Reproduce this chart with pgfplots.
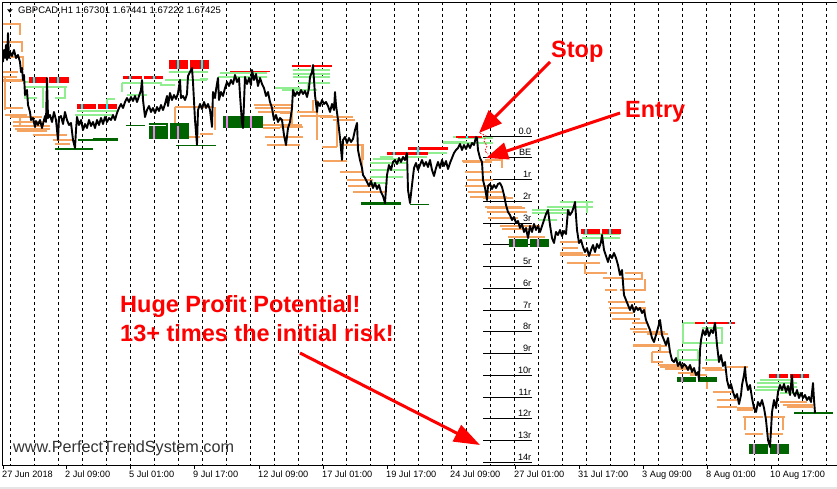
\documentclass[border=0pt]{standalone}
\usepackage{fontspec}
\setmainfont{Liberation Sans}
\usepackage{pgfplots}
\pgfplotsset{compat=1.18}
\usetikzlibrary{arrows.meta}

\definecolor{sandy}{RGB}{244,164,96}
\definecolor{lgreen}{RGB}{144,238,144}
\definecolor{dgreen}{RGB}{0,100,0}
\definecolor{cyanx}{RGB}{0,255,255}
\definecolor{viol}{RGB}{238,130,238}

% filled box: colour, x1, x2, y1, y2 (pixel units)
\newcommand\rect[5]{\addplot[fill=#1, draw=none] coordinates {(#2,#4) (#3,#4) (#3,#5) (#2,#5)} -- cycle;}

\begin{document}
\begin{tikzpicture}
\begin{axis}[
  scale only axis, width=838bp, height=463bp,
  xmin=2, xmax=840, ymin=2, ymax=465, y dir=reverse,
  clip=false,
  axis line style={black, line width=0.9bp},
  ytick=\empty,
  xtick={3,66,130,194,259,323,387,451,515,579,643,707,771},
  xticklabels={27 Jun 2018, 2 Jul 09:00, 5 Jul 01:00, 9 Jul 17:00, 12 Jul 09:00, 17 Jul 01:00, 19 Jul 17:00, 24 Jul 09:00, 27 Jul 01:00, 31 Jul 17:00, 3 Aug 09:00, 8 Aug 01:00, 10 Aug 17:00},
  xtick pos=left, tick align=outside, major tick length=4bp,
  tick style={black, line width=0.9bp},
  xticklabel style={anchor=north west, inner sep=0pt, xshift=-1bp, yshift=-2bp, font=\fontsize{9.2bp}{10bp}\selectfont},
  minor xtick={10.5,34.5,...,826.5},
  minor tick length=0pt,
  xminorgrids=true,
  minor grid style={black, line width=0.9bp, dash pattern=on 3bp off 3bp},
  unbounded coords=jump,
]
% grey strip under the chart
\addplot[fill=gray!20, draw=none] coordinates {(0,486.5) (837,486.5) (837,489) (0,489)} -- cycle;

% R-multiple levels
\addplot[black, line width=1bp] coordinates {
(483,136) (532,136) (0,nan) (483,157.75) (532,157.75) (0,nan)
(483,179.5) (532,179.5) (0,nan) (483,201.25) (532,201.25) (0,nan)
(483,223) (532,223) (0,nan) (483,244.75) (532,244.75) (0,nan)
(483,266.5) (532,266.5) (0,nan) (483,288.25) (532,288.25) (0,nan)
(483,310) (532,310) (0,nan) (483,331.75) (532,331.75) (0,nan)
(483,353.5) (532,353.5) (0,nan) (483,375.25) (532,375.25) (0,nan)
(483,397) (532,397) (0,nan) (483,418.75) (532,418.75) (0,nan)
(483,440.5) (532,440.5) (0,nan) (483,462.25) (532,462.25)};
\begin{scope}[every node/.style={anchor=base east, inner sep=0pt, font=\fontsize{9.2bp}{10bp}\selectfont}]
\node at (axis cs:531.5,134) {0.0};
\node at (axis cs:531.5,155.75) {BE};
\node at (axis cs:531.5,177.5) {1r};
\node at (axis cs:531.5,199.25) {2r};
\node at (axis cs:531.5,221) {3r};
\node at (axis cs:531.5,264.5) {5r};
\node at (axis cs:531.5,286.25) {6r};
\node at (axis cs:531.5,308) {7r};
\node at (axis cs:531.5,329.75) {8r};
\node at (axis cs:531.5,351.5) {9r};
\node at (axis cs:531.5,373.25) {10r};
\node at (axis cs:531.5,395) {11r};
\node at (axis cs:531.5,416.75) {12r};
\node at (axis cs:531.5,438.5) {13r};
\node at (axis cs:531.5,460.25) {14r};
\end{scope}

% orange trailing levels
\addplot[sandy, line width=1.1bp] coordinates {
(3,24) (20,24) (20,35) (0,nan) (3,42) (22,42) (22,52) (0,nan) (3,57) (23,57) (23,70) (0,nan)
(3,72) (18,72) (0,nan) (3,77) (17,77) (0,nan) (3,80) (23,80) (0,nan) (3,81.5) (23,81.5) (0,nan)
(5,77) (5,110) (0,nan) (5,108) (23,108) (0,nan) (5,115) (27,115) (20,115) (20,125) (0,nan)
(10,117) (42,117) (0,nan) (13,122) (43,122) (0,nan) (13,126) (50,126) (0,nan) (15,129) (50,129) (0,nan)
(17,131) (47,131) (0,nan) (33,135) (67,135) (0,nan) (53,140) (73,140) (0,nan) (55,144) (70,144) (0,nan)
(175,107) (213,107) (0,nan) (175,107) (175,137) (0,nan) (177,137) (200,137) (0,nan)
(200,134) (213,134) (0,nan) (215,107) (215,130) (0,nan)
(254,105) (292,105) (292,125) (0,nan) (255,108) (292,108) (0,nan) (258,112) (290,112) (0,nan)
(263,125) (302,125) (0,nan) (263,128) (280,128) (0,nan) (265,137) (280,137) (0,nan) (267,145) (300,145) (0,nan)
(280,113) (293,113) (0,nan) (280,120) (290,120) (0,nan) (280,127) (303,127) (0,nan) (280,137) (303,137) (0,nan)
(297,112) (317,112) (0,nan) (300,116) (333,116) (0,nan) (320,117) (353,117) (0,nan) (333,120) (355,120) (0,nan)
(317,100) (317,140) (0,nan) (313,100) (313,113) (0,nan) (337,120) (337,147) (0,nan)
(322,147) (337,147) (0,nan) (323,161) (347,161) (0,nan) (343,145) (363,145) (363,160) (0,nan)
(340,117) (353,117) (0,nan) (340,120) (353,120) (0,nan) (342,145) (362,145) (362,172) (0,nan)
(340,172) (363,172) (0,nan) (347,180) (373,180) (0,nan) (348,186) (380,186) (0,nan) (353,192) (387,192) (0,nan)
(462,161) (480,161) (0,nan) (485,160) (502,160) (502,168) (0,nan) (463,162) (492,162) (0,nan)
(465,172) (492,172) (0,nan) (467,180) (493,180) (0,nan) (465,186) (495,186) (0,nan)
(468,192) (502,192) (0,nan) (470,197) (507,197) (0,nan) (483,198) (513,198) (0,nan)
(485,207) (522,207) (0,nan) (487,212) (527,212) (0,nan) (488,218) (518,218) (0,nan)
(487,208) (525,208) (0,nan) (500,226) (540,226) (0,nan) (502,229) (530,229) (0,nan) (508,237) (545,237) (0,nan)
(560,242) (580,242) (0,nan) (562,248) (578,248) (0,nan) (560,255) (600,255) (0,nan) (560,253) (583,253) (0,nan)
(567,263) (600,263) (0,nan) (585,263) (585,273) (607,273) (0,nan) (603,278) (622,278) (0,nan)
(625,273) (642,273) (642,279) (0,nan) (623,279) (643,279) (0,nan) (605,290) (617,290) (0,nan)
(625,290) (645,290) (645,279) (0,nan) (608,302) (645,302) (0,nan) (609,308) (633,308) (0,nan)
(610,313) (633,313) (0,nan) (612,319) (640,319) (0,nan) (630,329) (647,329) (0,nan)
(633,345) (660,345) (660,352) (0,nan) (652,352) (660,352) (0,nan)
(620,290) (640,290) (0,nan) (627,308) (645,308) (645,317) (0,nan) (632,323) (647,323) (0,nan)
(633,332) (665,332) (0,nan) (647,334) (668,334) (0,nan) (633,346) (667,346) (0,nan)
(652,352) (670,352) (0,nan) (652,352) (652,362) (663,362) (0,nan) (658,365) (685,365) (0,nan)
(660,367) (692,367) (0,nan) (665,369) (693,369) (0,nan) (678,373) (698,373) (0,nan) (690,375) (707,375) (0,nan)
(702,368) (722,368) (0,nan) (705,370) (727,370) (0,nan) (727,367) (748,367) (0,nan)
(707,380) (707,389) (0,nan) (713,392) (733,392) (0,nan) (717,400) (737,400) (0,nan) (717,407) (737,407) (0,nan)
(737,408) (757,408) (0,nan) (737,410) (753,410) (0,nan) (743,417) (763,417) (0,nan) (745,417) (745,430) (0,nan)
(745,434) (763,434) (0,nan) (765,417) (785,417) (0,nan) (783,417) (783,430) (0,nan) (768,434) (783,434) (0,nan)
(780,402) (807,402) (0,nan) (783,405) (813,405) (0,nan) (787,407) (813,407)};

% light green trailing levels
\addplot[lgreen, line width=1.1bp] coordinates {
(25,82) (43,82) (0,nan) (25,87) (67,87) (0,nan) (25,87) (25,98) (37,98) (0,nan) (55,98) (65,98) (65,87) (0,nan)
(43,87) (43,108) (0,nan) (77,111) (117,111) (0,nan) (75,115) (113,115) (0,nan) (107,99) (115,99) (0,nan) (107,99) (107,106) (0,nan)
(122,83) (162,83) (0,nan) (122,83) (122,92) (0,nan) (127,95) (147,95) (0,nan) (160,85) (175,85) (0,nan) (165,80) (180,80) (0,nan)
(169,72) (208,72) (0,nan) (175,80) (207,80) (0,nan) (200,79) (208,79) (0,nan)
(220,73) (267,73) (0,nan) (218,77) (267,77) (0,nan) (220,73) (257,73) (0,nan) (275,88) (280,88) (0,nan)
(293,70) (330,70) (0,nan) (293,74) (330,74) (0,nan) (293,77) (330,77) (0,nan) (298,83) (330,83) (0,nan)
(280,88) (293,88) (0,nan) (282,90) (317,90) (0,nan) (308,82) (308,90) (0,nan) (277,88) (300,88) (0,nan)
(373,159) (407,159) (0,nan) (370,163) (407,163) (0,nan) (370,170) (407,170) (0,nan) (370,177) (403,177) (0,nan)
(372,183) (388,183) (0,nan) (407,157) (427,157) (0,nan) (417,153) (447,153) (0,nan) (380,157) (393,157) (0,nan)
(443,142) (467,142) (0,nan) (453,137) (480,137) (0,nan) (443,143) (493,143) (0,nan) (458,138) (493,138) (0,nan)
(532,210) (570,210) (0,nan) (532,213) (570,213) (0,nan) (547,207) (593,207) (0,nan) (560,202) (593,202) (0,nan)
(587,202) (587,213) (0,nan) (538,220) (557,220) (0,nan) (582,238) (620,238) (0,nan) (583,234) (620,234) (0,nan)
(683,323) (702,323) (0,nan) (683,323) (683,343) (700,343) (0,nan) (700,343) (722,343) (722,328) (702,328) (0,nan)
(678,350) (698,350) (0,nan) (678,350) (678,360) (700,360) (0,nan) (698,350) (698,360) (0,nan) (705,360) (720,360) (0,nan)
(760,380) (793,380) (0,nan) (757,383) (797,383) (0,nan) (757,387) (797,387) (0,nan) (755,390) (790,390) (0,nan)
(780,393) (800,393)};

% dark green thin lows
\addplot[dgreen, line width=1.2bp] coordinates {
(126,125.3) (145,125.3) (0,nan) (55,149) (93,149) (0,nan) (176,145.7) (210,145.7) (0,nan)
(200,145.3) (216,145.3) (0,nan) (410,204.8) (429,204.8) (0,nan) (794,413) (833,413)};
% small red dashes at the stop
\addplot[red, line width=0.8bp, dash pattern=on 1.5bp off 1.5bp] coordinates {(480,133) (486,136) (484,141) (487,146) (485,151) (488,154)};

% red swing-high bars
\rect{red}{29}{47}{77}{83}
\rect{red}{49}{69}{77}{83}
\rect{red}{77}{96}{104}{109}
\rect{red}{98}{117}{104}{109}
\rect{red}{123}{142}{76}{79}
\rect{red}{144}{163}{76}{79}
\rect{red}{169}{188}{60}{69}
\rect{red}{190}{209}{60}{69}
\rect{red}{230}{270}{71}{72.5}
\rect{red}{292}{311}{65}{67}
\rect{red}{313}{332}{65}{67}
\rect{red}{387}{407}{152}{155}
\rect{red}{408}{428}{152}{155}
\rect{red}{408}{448}{147}{150}
\rect{red}{456}{482}{135.5}{138}
\rect{red}{581}{600}{229}{234}
\rect{red}{602}{621}{229}{234}
\rect{red}{695}{735}{321.5}{323.5}
\rect{red}{769}{788}{374}{378}
\rect{red}{790}{809}{374}{378}
% dark green swing-low bars
\rect{dgreen}{149}{168}{123}{139}
\rect{dgreen}{170}{189}{123}{139}
\rect{dgreen}{223}{242}{116}{128}
\rect{dgreen}{244}{263}{116}{128}
\rect{dgreen}{78}{93}{139}{140.5}
\rect{dgreen}{93}{118}{137.5}{141}
\rect{dgreen}{361}{401}{202}{205}
\rect{dgreen}{509}{528}{239}{247}
\rect{dgreen}{530}{549}{239}{247}
\rect{dgreen}{677}{696}{377}{381.5}
\rect{dgreen}{698}{717}{377}{381.5}
\rect{dgreen}{749}{768}{444}{454}
\rect{dgreen}{770}{789}{444}{454}
\addplot[white, line width=1bp] coordinates {(149,125.5) (166,125.5)};
% cyan and violet marks
\addplot[cyanx, line width=1.2bp] coordinates {
(34,77) (34,83) (0,nan) (58,77) (58,83) (0,nan) (82,104) (82,109) (0,nan) (107,104) (107,109) (0,nan)
(130,76) (130,79) (0,nan) (154,76) (154,79) (0,nan) (178,60) (178,69) (0,nan) (202,60) (202,69) (0,nan)
(394,152) (394,155) (0,nan) (418,147) (418,155) (0,nan) (467,135.5) (467,138) (0,nan)
(586,229) (586,234) (0,nan) (610,229) (610,234) (0,nan) (706,321.5) (706,323.5) (0,nan) (730,321.5) (730,323.5) (0,nan)
(778,374) (778,378) (0,nan) (802,374) (802,378)};
\addplot[viol, line width=1.2bp] coordinates {
(154,126) (154,139) (0,nan) (178,126) (178,139) (0,nan) (227,116) (227,128) (0,nan) (251,116) (251,128) (0,nan)
(514,239) (514,247) (0,nan) (538,239) (538,247) (0,nan) (682,377) (682,381.5) (0,nan)
(754,444) (754,454) (0,nan) (778,444) (778,454)};

% GBPCAD H1 close path
\addplot[black, line width=1.9bp, line join=round] coordinates {
(3,62) (4,50) (5,58) (6,45) (7,60) (8,33) (9,58) (10,52) (12,56) (14,50) (16,58) (18,55) (20,62) (21,72) (22,68) (23,80) (24,75) (25,95) (27,90) (28,105) (30,112) (31,120) (33,118) (35,127) (36,121) (38,125) (40,120) (42,128) (43,124) (45,116) (46,122) (47,78) (48,118) (50,115) (52,122) (54,112) (56,120) (58,140) (59,118) (61,116) (63,124) (65,112) (67,120) (69,125) (71,123) (73,140) (75,148) (76,130) (77,117) (79,125) (81,120) (83,130) (85,124) (87,128) (89,120) (91,126) (93,122) (95,128) (97,120) (99,125) (101,118) (103,124) (105,117) (107,122) (109,118) (111,120) (113,115) (115,120) (117,113) (119,108) (121,104) (123,108) (125,102) (127,98) (129,102) (131,97) (133,101) (135,96) (137,102) (139,96) (141,90) (142,80) (143,100) (145,117) (147,110) (149,106) (151,112) (153,108) (155,113) (157,107) (159,111) (161,105) (163,110) (165,104) (167,96) (168,106) (170,93) (172,100) (174,95) (176,99) (178,93) (180,80) (181,98) (183,96) (185,100) (187,94) (188,76) (190,72) (192,68) (193,82) (195,120) (197,145) (198,110) (200,104) (202,109) (204,102) (206,108) (208,104) (210,110) (212,127) (213,92) (215,98) (216,90) (218,78) (219,100) (221,92) (223,96) (225,88) (227,82) (229,86) (231,80) (233,84) (235,75) (237,82) (239,78) (240,95) (242,123) (243,128) (245,77) (247,84) (249,78) (251,85) (252,70) (254,80) (256,74) (258,86) (260,78) (262,84) (264,88) (266,96) (268,92) (270,102) (272,108) (274,120) (276,115) (278,122) (280,118) (282,120) (284,135) (286,145) (288,128) (290,122) (292,108) (293,90) (295,96) (297,92) (299,95) (301,90) (303,94) (305,91) (307,97) (309,88) (310,77) (312,72) (313,65) (314,80) (315,95) (317,112) (318,102) (320,106) (322,100) (324,104) (326,102) (328,106) (330,112) (332,104) (334,110) (335,92) (336,105) (338,120) (340,138) (342,160) (343,140) (345,137) (347,143) (349,138) (351,142) (353,139) (355,130) (357,123) (358,150) (360,160) (362,168) (363,175) (365,178) (367,182) (369,186) (371,181) (373,188) (375,183) (377,189) (379,185) (381,192) (383,196) (385,203) (387,175) (389,165) (391,170) (393,162) (395,160) (397,164) (399,158) (401,162) (403,157) (405,160) (407,153) (408,190) (410,203) (412,185) (414,168) (416,163) (418,170) (420,165) (422,160) (424,166) (426,162) (428,167) (430,160) (432,170) (434,176) (436,168) (438,162) (440,168) (442,160) (444,166) (446,161) (448,169) (450,163) (452,158) (454,153) (456,150) (458,148) (460,144) (462,150) (464,145) (466,149) (468,144) (470,148) (472,143) (474,145) (476,137) (477,138) (478,150) (480,158) (482,162) (483,180) (485,188) (487,200) (488,186) (490,184) (492,189) (494,185) (496,188) (498,184) (500,183) (502,187) (504,195) (506,205) (508,212) (510,215) (512,220) (514,217) (516,223) (518,221) (520,228) (522,224) (524,232) (526,228) (528,238) (530,226) (532,232) (534,224) (536,230) (538,226) (540,232) (542,226) (544,220) (546,214) (548,210) (550,225) (552,238) (554,243) (556,232) (558,235) (560,230) (562,236) (564,231) (566,234) (568,210) (570,215) (572,212) (574,206) (575,202) (577,230) (579,243) (581,240) (583,247) (585,252) (587,248) (589,256) (591,250) (593,245) (595,252) (597,244) (599,248) (601,242) (602,235) (604,250) (606,256) (608,262) (610,255) (612,258) (614,253) (616,258) (618,265) (620,275) (622,270) (623,283) (624,295) (626,300) (628,305) (630,310) (632,305) (634,312) (636,307) (638,310) (640,308) (642,313) (644,310) (646,320) (648,325) (650,330) (652,338) (654,342) (656,335) (658,328) (660,320) (662,335) (664,340) (666,345) (668,338) (670,352) (672,360) (674,362) (676,358) (678,366) (680,362) (682,368) (684,364) (686,366) (688,370) (690,365) (692,372) (694,368) (696,375) (698,372) (699,380) (700,350) (701,340) (703,330) (705,335) (707,328) (709,336) (711,330) (713,333) (715,323) (717,345) (719,362) (721,355) (723,366) (725,362) (727,380) (729,388) (731,384) (733,392) (735,398) (737,394) (739,404) (741,395) (742,385) (744,375) (745,367) (746,380) (748,390) (750,385) (752,398) (754,408) (756,412) (758,402) (760,406) (762,400) (764,408) (766,420) (767,430) (768,440) (770,447) (771,430) (772,412) (774,400) (776,408) (778,392) (780,385) (782,390) (784,384) (786,392) (788,386) (790,395) (792,375) (793,392) (795,396) (797,390) (799,398) (801,393) (803,398) (805,395) (807,400) (809,397) (811,402) (813,383) (814,400) (815,413)};

% frame top line
\addplot[black, line width=0.9bp] coordinates {(2,2) (837,2)};
% title
\addplot[fill=black, draw=none] coordinates {(7,9.3) (12.7,9.3) (9.85,12.7)} -- cycle;
\node[anchor=base west, inner sep=0pt, font=\fontsize{9.5bp}{11bp}\selectfont] at (axis cs:18,14) {GBPCAD,H1 1.67301 1.67441 1.67222 1.67425};
% watermark
\node[anchor=base west, inner sep=0pt, text=black!80, font=\fontsize{16.2bp}{18bp}\selectfont] at (axis cs:13,452) {www.PerfectTrendSystem.com};

% annotations
\begin{scope}[every node/.style={anchor=base west, inner sep=0pt, text=red, font=\fontsize{23.5bp}{28bp}\selectfont\bfseries}]
\node at (axis cs:551,58) {Stop};
\node at (axis cs:625,117) {Entry};
\node at (axis cs:120,312) {Huge Profit Potential!};
\node at (axis cs:120,341) {13+ times the initial risk!};
\end{scope}
\addplot[red, line width=3bp, -{Triangle[length=23bp,width=18bp]}] coordinates {(550,62) (479,133)};
\addplot[red, line width=3bp, -{Triangle[length=22bp,width=17bp]}] coordinates {(620,113) (486,158)};
\addplot[red, line width=3bp, -{Triangle[length=26bp,width=18bp]}] coordinates {(300,353) (480,445)};

\coordinate (bbsw) at (axis cs:0,489);
\coordinate (bbne) at (axis cs:837,0);
\end{axis}
\pgfresetboundingbox
\path[use as bounding box] (bbsw) rectangle (bbne);
\end{tikzpicture}
\end{document}
